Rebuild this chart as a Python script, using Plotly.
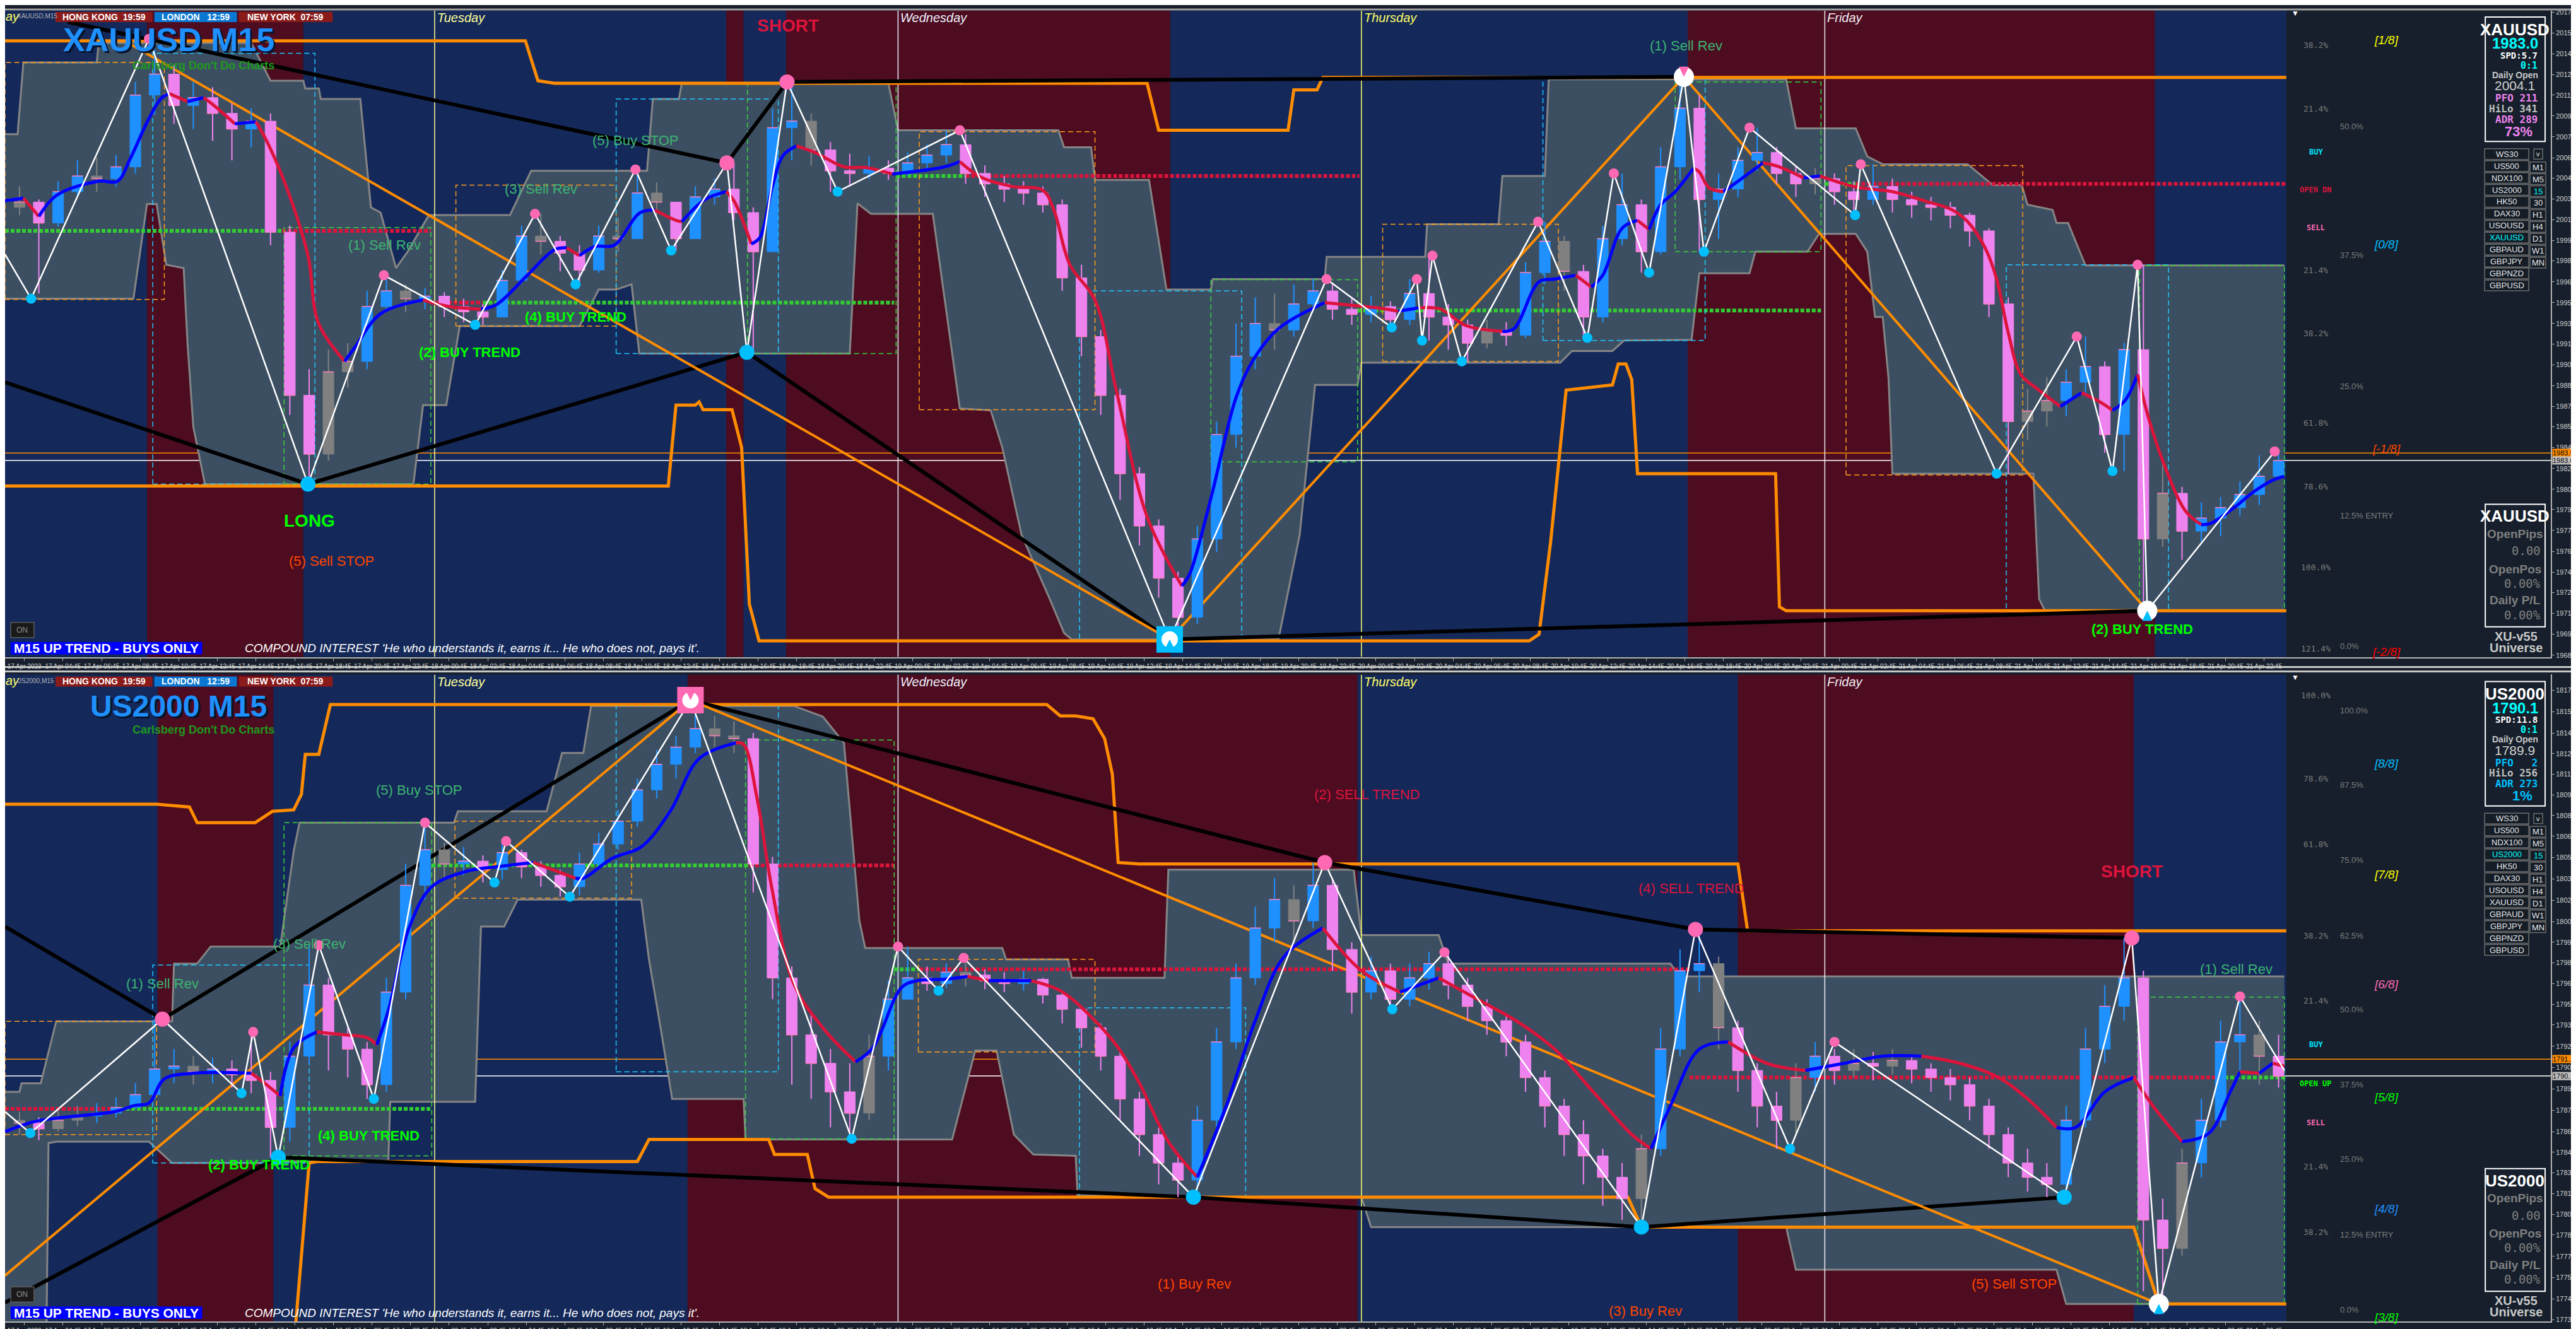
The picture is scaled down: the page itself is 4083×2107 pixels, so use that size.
import numpy as np
import plotly.graph_objects as go

# ---------------------------------------------------------------- time axis
# x = hours since Mon 17 Apr 2023 00:00 (broker time), one candle per hour
candle_hours = list(range(2, 120))
time_ticks = [2.75] + [4.75 + 2 * k for k in range(58)]
time_labels = ["17 Apr 2023"] + [f"{17 + int(t // 24)} Apr {int(t % 24):02d}:45" for t in time_ticks[1:]]
day_names = [(24, "Tuesday"), (48, "Wednesday"), (72, "Thursday"), (96, "Friday")]

# ---------------------------------------------------------------- XAUUSD M15 (top)
xau_first_open = 2002.4
xau_close = [2002.8, 2001.2, 2003.6, 2004.8, 2004.6, 2005.5, 2011.0, 2012.6, 2010.2, 2010.8,
             2009.6, 2008.4, 2009.0, 2000.5, 1988.0, 1983.5, 1989.8, 1990.6, 1994.8, 1996.0,
             1995.4, 1995.6, 1994.8, 1994.4, 1994.0, 1996.8, 2000.2, 1999.8, 1998.9, 1997.6,
             2000.2, 2000.0, 2003.5, 2002.8, 2000.0, 2003.2, 2003.8, 2002.0, 1999.0, 2008.5,
             2009.0, 2006.8, 2005.2, 2005.0, 2005.4, 2005.0, 2005.8, 2006.4, 2007.2, 2005.0,
             2004.2, 2003.8, 2003.5, 2002.6, 1997.0, 1992.5, 1988.0, 1982.0, 1978.0, 1974.0,
             1971.0, 1977.0, 1985.0, 1991.0, 1993.5, 1993.0, 1995.0, 1996.0, 1994.6, 1994.2,
             1994.8, 1993.8, 1995.8, 1994.0, 1993.4, 1992.0, 1993.0, 1992.6, 1997.4, 1999.8,
             1997.5, 1994.0, 2000.0, 2002.6, 1999.0, 2005.5, 2010.0, 2003.0, 2003.8, 2006.0,
             2006.6, 2005.0, 2004.2, 2004.6, 2003.6, 2003.0, 2004.0, 2003.0, 2002.6, 2002.4,
             2001.8, 2000.6, 1995.0, 1986.0, 1986.8, 1987.6, 1989.0, 1990.2, 1985.0, 1991.5,
             1977.0, 1980.5, 1977.6, 1978.6, 1979.4, 1980.4, 1981.8, 1983.0]
xau_high = [2004.0, 2003.0, 2004.4, 2006.0, 2006.2, 2006.4, 2012.0, 2015.3, 2013.3, 2012.0,
            2011.6, 2010.4, 2010.0, 2009.6, 2001.0, 1990.0, 1991.5, 1992.0, 1996.0, 1997.2,
            1996.5, 1996.2, 1995.9, 1995.4, 1995.0, 1997.6, 2001.0, 2001.9, 2000.2, 1999.5,
            2001.0, 2001.6, 2005.3, 2004.3, 2002.8, 2004.0, 2004.6, 2005.8, 2002.4, 2010.0,
            2012.0, 2009.6, 2007.4, 2006.5, 2006.3, 2006.0, 2006.6, 2007.2, 2008.3, 2008.0,
            2005.6, 2004.8, 2004.4, 2004.0, 2003.0, 1998.0, 1993.0, 1988.5, 1982.5, 1978.5,
            1974.5, 1978.0, 1986.0, 1993.5, 1995.5, 1995.8, 1996.5, 1996.9, 1996.5, 1995.4,
            1995.6, 1995.2, 1996.9, 1998.7, 1995.0, 1993.8, 1993.8, 1993.6, 1998.2, 2001.3,
            2000.2, 1998.0, 2001.0, 2005.0, 2003.0, 2007.0, 2012.4, 2011.0, 2005.0, 2007.0,
            2008.5, 2007.0, 2005.6, 2005.4, 2005.0, 2004.4, 2005.7, 2004.6, 2003.6, 2003.2,
            2002.8, 2002.0, 2000.8, 1995.5, 1988.5, 1989.4, 1990.0, 1992.5, 1990.6, 1992.0,
            1998.0, 1983.0, 1981.0, 1979.8, 1980.2, 1981.4, 1983.4, 1983.7]
xau_low = [2001.8, 1995.8, 2000.9, 2003.2, 2003.6, 2004.0, 2005.0, 2009.5, 2008.8, 2008.4,
           2007.5, 2006.0, 2007.0, 1999.5, 1986.5, 1981.2, 1983.0, 1988.6, 1990.0, 1994.5,
           1994.4, 1994.6, 1994.0, 1993.6, 1993.4, 1994.0, 1996.5, 1998.8, 1997.5, 1996.5,
           1997.4, 1999.0, 2000.0, 2001.8, 1999.1, 2000.0, 2002.6, 2001.4, 1991.3, 1999.0,
           2006.0, 2005.6, 2003.6, 2004.0, 2004.6, 2004.5, 2004.8, 2005.2, 2005.8, 2004.2,
           2003.2, 2002.8, 2002.6, 2002.0, 1996.0, 1991.0, 1986.5, 1980.0, 1976.5, 1972.5,
           1969.3, 1970.5, 1976.0, 1984.0, 1990.0, 1991.5, 1992.5, 1994.5, 1993.8, 1993.4,
           1993.6, 1993.2, 1993.4, 1992.2, 1991.5, 1990.6, 1991.6, 1991.8, 1992.4, 1996.5,
           1996.0, 1992.4, 1993.6, 1999.5, 1997.4, 1998.8, 2004.5, 1999.0, 2000.0, 2003.2,
           2005.2, 2004.2, 2003.2, 2003.4, 2002.6, 2001.8, 2002.6, 2002.0, 2001.6, 2001.4,
           2000.8, 1999.4, 1994.0, 1982.0, 1984.6, 1985.6, 1986.4, 1988.0, 1983.6, 1982.2,
           1971.5, 1976.4, 1975.4, 1976.8, 1977.2, 1978.8, 1979.6, 1981.6]
xau_ma = [(1.75, 2002.9), (2.7, 2003.1), (3.5, 2001.7), (4.45, 2003.35), (6.6, 2004.4), (7.57, 2004.4),
          (8.24, 2006.15), (9.2, 2009.2), (9.87, 2010.8), (10.27, 2011.1), (11.2, 2010.5), (12.03, 2010.8),
          (12.57, 2010.2), (13.65, 2008.8), (14.74, 2008.95), (15.28, 2007.55), (16.36, 2003.8),
          (17.44, 1998.7), (17.98, 1993.55), (19.34, 1990.6), (19.88, 1991.7), (21.2, 1994.25),
          (23.4, 1995.3), (24.75, 1994.8), (26.4, 1994.6), (27.2, 1994.95), (28.8, 1997.2), (30.2, 1999.15),
          (30.84, 1999.3), (31.5, 1998.7), (32.3, 1999.4), (33.3, 1999.5), (34.6, 2001.95), (35.4, 2002.2),
          (36.5, 2001.4), (36.8, 2001.3), (38.0, 2003.0), (39.1, 2003.6), (39.5, 2002.9), (40.4, 1999.6),
          (40.85, 2000.1), (41.5, 2004.05), (42.06, 2006.4), (42.74, 2007.1), (43.7, 2006.6),
          (45.2, 2005.5), (46.3, 2005.45), (47.7, 2004.95), (50.4, 2005.5), (51.2, 2005.9), (52.3, 2004.7),
          (53.9, 2004.0), (55.5, 2003.7), (56.07, 2002.2), (56.9, 1998.0), (58.2, 1995.3), (59.3, 1988.4),
          (60.9, 1978.7), (62.7, 1973.4), (63.1, 1974.3), (64.2, 1980.1), (65.5, 1987.8), (66.35, 1990.6),
          (67.7, 1993.1), (70.1, 1995.1), (71.5, 1994.9), (72.8, 1994.7), (73.9, 1994.45), (75.0, 1994.7),
          (76.1, 1994.6), (77.4, 1993.35), (79.3, 1992.9), (79.9, 1993.1), (81.2, 1996.7), (82.0, 1996.9),
          (83.1, 1997.2), (83.9, 1996.3), (84.5, 1997.2), (85.5, 2000.8), (86.3, 2001.4), (86.9, 2000.7),
          (87.5, 2002.6), (88.25, 2003.6), (89.2, 2005.4), (89.5, 2005.1), (90.0, 2003.9), (90.75, 2003.6),
          (91.6, 2004.5), (92.8, 2005.8), (93.65, 2005.5), (94.9, 2004.65), (95.75, 2004.8), (97.0, 2004.2),
          (97.8, 2003.9), (99.5, 2003.6), (101.15, 2002.9), (102.6, 2002.2), (103.4, 2001.3), (104.3, 1999.3),
          (104.9, 1996.9), (105.5, 1992.8), (106.15, 1989.6), (107.0, 1988.5), (108.2, 1987.15),
          (109.3, 1988.2), (110.3, 1987.45), (110.9, 1986.85), (111.55, 1987.6), (112.2, 1989.6),
          (112.8, 1986.1), (113.6, 1982.6), (114.7, 1979.1), (115.5, 1978.1), (116.0, 1978.2),
          (117.2, 1979.4), (118.2, 1980.6), (119.2, 1981.5), (119.8, 1981.8)]
xau_zigzag = [(1.75, 1998.8), (3.1, 1995.4), (9.2, 2015.3), (17.44, 1981.2), (21.37, 1997.2), (26.1, 1993.4),
              (29.2, 2001.9), (31.3, 1996.5), (34.4, 2005.3), (36.25, 1999.1), (39.14, 2005.8), (40.17, 1991.3),
              (42.25, 2012.0), (44.87, 2003.6), (51.2, 2008.3), (62.07, 1969.3), (70.19, 1996.9), (73.57, 1993.2),
              (74.87, 1996.9), (75.14, 1992.2), (75.68, 1998.7), (77.2, 1990.6), (81.15, 2001.3), (83.7, 1992.4),
              (85.07, 2005.0), (86.9, 1997.4), (88.7, 2012.4), (89.74, 1999.0), (92.1, 2008.5), (97.57, 2001.8),
              (97.86, 2005.7), (104.9, 1982.0), (109.05, 1992.5), (110.9, 1982.2), (112.2, 1998.0),
              (112.7, 1971.5), (119.3, 1983.7)]
xau_chan_hi = [(1.75, 2008.0), (2.4, 2008.0), (2.7, 2013.5), (6.5, 2013.5), (6.6, 2015.0), (14.5, 2015.0),
               (15.5, 2012.1), (17.2, 2012.1), (17.3, 2011.5), (18.0, 2011.5), (18.1, 2010.7), (20.15, 2010.7),
               (20.7, 2002.4), (21.2, 2002.0), (22.0, 1997.75), (22.6, 1999.0), (23.7, 2001.8), (27.9, 2001.8),
               (29.0, 2005.2), (35.0, 2005.2), (35.3, 2010.7), (36.65, 2010.7), (36.8, 2011.9), (47.5, 2011.9),
               (48.0, 2008.3), (56.3, 2008.3), (56.6, 2007.0), (58.0, 2007.0), (58.2, 2004.5), (61.0, 2004.5),
               (61.9, 1996.1), (64.2, 1996.1), (64.3, 1996.9), (70.1, 1996.9), (70.2, 1998.6), (75.3, 1998.6),
               (75.4, 2001.1), (79.1, 2001.1), (79.3, 2004.8), (81.5, 2004.8), (81.7, 2012.2), (94.0, 2012.2),
               (94.5, 2008.45), (97.6, 2008.45), (98.2, 2006.3), (99.0, 2005.7), (103.4, 2005.7), (104.7, 2004.1),
               (106.2, 2004.1), (106.5, 2002.6), (107.8, 2002.2), (108.0, 2001.2), (108.6, 2001.2),
               (109.5, 1997.95), (119.8, 1997.95)]
xau_chan_lo = [(1.75, 1995.4), (8.4, 1995.4), (9.1, 2002.65), (9.6, 2002.65), (10.1, 1998.0), (11.0, 1997.75),
               (11.2, 1992.0), (11.5, 1985.6), (12.1, 1981.2), (22.9, 1981.2), (23.4, 1987.25), (24.6, 1987.25),
               (25.3, 1993.3), (31.5, 1993.3), (32.5, 1996.1), (33.4, 1996.1), (34.2, 1996.5), (34.6, 1991.2),
               (45.5, 1991.2), (45.9, 2002.7), (46.6, 2001.9), (49.8, 2001.9), (51.2, 1987.0), (52.8, 1986.85),
               (53.4, 1984.0), (54.4, 1977.3), (55.8, 1972.6), (56.6, 1969.8), (57.0, 1969.3), (67.7, 1969.3),
               (68.8, 1977.3), (69.6, 1988.8), (71.8, 1988.8), (72.0, 1990.5), (82.3, 1990.5), (82.9, 1991.4),
               (85.0, 1991.4), (85.6, 1992.2), (89.1, 1992.25), (89.5, 1997.35), (92.1, 1997.35), (92.4, 1999.0),
               (95.1, 1999.0), (95.7, 2000.37), (97.6, 2000.37), (98.2, 1999.0), (98.6, 1994.0), (99.0, 1994.0),
               (99.3, 1989.3), (99.5, 1982.0), (106.8, 1982.0), (107.1, 1972.4), (107.4, 1971.5), (119.8, 1971.5)]
xau_outer_hi = [(1.75, 2015.15), (28.7, 2015.15), (29.35, 2012.1), (30.2, 2011.9), (60.9, 2011.9), (61.5, 2008.3),
                (68.2, 2008.3), (68.5, 2011.4), (69.7, 2011.4), (70.0, 2012.35), (119.9, 2012.35)]
xau_outer_lo = [(1.75, 1981.05), (36.1, 1981.05), (36.5, 1987.25), (37.5, 1987.25), (37.7, 1987.5), (37.9, 1986.9),
                (39.4, 1986.9), (39.9, 1984.0), (40.3, 1972.0), (40.8, 1969.2), (80.7, 1969.2), (81.2, 1969.7),
                (81.8, 1976.8), (82.6, 1988.4), (85.0, 1988.8), (85.3, 1990.4), (85.7, 1990.4), (86.0, 1989.2),
                (86.3, 1982.0), (93.45, 1982.0), (93.65, 1971.8), (94.0, 1971.5), (119.9, 1971.5)]
xau_black = [((1.75, 1989.0), (17.44, 1981.2)), ((17.44, 1981.2), (40.17, 1991.3)), ((40.17, 1991.3), (62.07, 1969.3)),
             ((5.0, 2016.6), (39.14, 2005.8)), ((39.14, 2005.8), (42.25, 2012.0)), ((42.25, 2012.0), (88.7, 2012.4)),
             ((62.07, 1969.3), (112.7, 1971.5))]
xau_trend = [((8.0, 2015.1), (62.07, 1969.3)), ((62.07, 1969.3), (88.7, 2012.4)), ((88.7, 2012.4), (112.7, 1971.5))]
xau_levels = [(1.75, 16.1, 2000.6, "up"), (16.1, 23.8, 2000.6, "dn"), (23.8, 26.5, 1995.1, "dn"),
              (26.5, 47.8, 1995.1, "up"), (47.9, 51.5, 2004.8, "up"), (51.5, 71.9, 2004.8, "dn"),
              (71.8, 95.8, 1994.5, "up"), (96.0, 97.6, 2004.2, "up"), (97.6, 119.9, 2004.2, "dn")]
xau_boxes = [(1.75, 10.0, 1995.35, 2013.5, "o"), (9.4, 17.8, 1981.2, 2014.2, "c"), (16.2, 23.8, 1981.2, 2000.85, "g"),
             (25.1, 33.4, 1993.3, 2004.1, "o"), (33.4, 41.8, 1991.2, 2010.7, "c"), (40.2, 47.9, 1991.2, 2011.9, "g"),
             (49.1, 58.2, 1986.9, 2008.2, "o"), (57.4, 65.8, 1969.2, 1996.0, "c"), (64.2, 71.8, 1982.9, 1996.85, "g"),
             (73.1, 82.2, 1990.6, 2001.1, "o"), (81.4, 89.8, 1992.2, 2012.3, "c"), (88.25, 95.8, 1999.0, 2012.0, "g"),
             (97.1, 106.25, 1981.9, 2005.6, "o"), (105.4, 113.8, 1971.5, 1998.0, "c"), (112.3, 119.8, 1971.5, 1997.95, "g")]
xau_sessions = [(1.75, 9.1, "n"), (9.1, 17.2, "m"), (17.2, 39.1, "n"), (39.1, 40.0, "m"), (40.0, 42.2, "n"),
                (42.2, 62.1, "m"), (62.1, 88.9, "n"), (88.9, 113.1, "m"), (113.1, 119.9, "n")]
xau_signals = [(21.4, 1999.5, "(1) Sell Rev", "rev"), (25.8, 1991.3, "(2) BUY TREND", "trend"),
               (29.5, 2003.8, "(3) Sell Rev", "rev"), (31.3, 1994.0, "(4) BUY TREND", "trend"),
               (34.4, 2007.55, "(5) Buy STOP", "rev"), (17.5, 1978.4, "LONG", "long"),
               (18.66, 1975.3, "(5) Sell STOP", "stop"), (42.3, 2016.3, "SHORT", "short"),
               (88.8, 2014.8, "(1) Sell Rev", "rev"), (112.45, 1970.1, "(2) BUY TREND", "trend")]
xau_ask, xau_bid = 1983.58, 1983.01
xau_yticks = [2017.35, 2015.75, 2014.15, 2012.55, 2011.00, 2009.40, 2007.80, 2006.20, 2004.65, 2003.05, 2001.45,
              1999.85, 1998.30, 1996.70, 1995.10, 1993.50, 1991.95, 1990.35, 1988.75, 1987.15, 1985.60, 1984.00,
              1982.40, 1980.80, 1979.25, 1977.65, 1976.05, 1974.45, 1972.90, 1971.30, 1969.70, 1968.10]
xau_fib_a = [(2014.81, "38.2%"), (2009.95, "21.4%"), (1997.58, "21.4%"), (1992.76, "38.2%"), (1985.88, "61.8%"),
             (1981.0, "78.6%"), (1974.8, "100.0%"), (1968.6, "121.4%")]
xau_fib_b = [(2008.6, "50.0%"), (1998.73, "37.5%"), (1988.7, "25.0%"), (1978.8, "12.5% ENTRY"), (1968.8, "0.0%")]
xau_octaves = [(2015.2, "[1/8]", "#ffff00"), (1999.55, "[0/8]", "#00bfff"), (1983.9, "[-1/8]", "#ff4500"),
               (1968.35, "[-2/8]", "#ff0000")]
xau_marks = [(2006.63, "BUY", "#00e5ff"), (2003.74, "OPEN DN", "#dc143c"), (2000.85, "SELL", "#ff69b4")]
xau_info = ["XAUUSD", "1983.0", "SPD:5.7", "0:1", "Daily Open", "2004.1", "PFO 211", "HiLo 341", "ADR 289", "73%"]

# ---------------------------------------------------------------- US2000 M15 (bottom)
us_first_open = 1787.0
us_close = [1786.8, 1786.4, 1787.0, 1787.3, 1787.5, 1787.9, 1788.8, 1790.6, 1790.8, 1790.4,
            1790.6, 1790.2, 1789.8, 1786.5, 1791.5, 1796.5, 1793.0, 1792.0, 1789.5, 1796.0,
            1803.5, 1806.0, 1805.0, 1805.2, 1804.6, 1805.8, 1804.8, 1804.2, 1803.4, 1805.0,
            1806.4, 1808.0, 1810.2, 1812.0, 1813.2, 1814.5, 1814.0, 1813.8, 1805.0, 1797.0,
            1793.0, 1791.0, 1789.0, 1787.5, 1791.5, 1795.5, 1797.0, 1796.6, 1797.4, 1797.2,
            1796.8, 1796.6, 1796.9, 1795.8, 1794.8, 1793.5, 1791.5, 1788.5, 1786.0, 1784.0,
            1782.8, 1787.0, 1792.5, 1797.0, 1800.5, 1802.5, 1801.0, 1803.5, 1799.0, 1796.0,
            1797.5, 1795.5, 1797.0, 1798.0, 1796.5, 1795.0, 1794.0, 1792.5, 1790.0, 1788.0,
            1786.0, 1784.5, 1783.0, 1781.5, 1785.0, 1792.0, 1797.5, 1798.0, 1793.5, 1790.5,
            1788.0, 1787.0, 1790.0, 1791.5, 1790.5, 1791.0, 1790.8, 1791.2, 1790.6, 1790.0,
            1789.5, 1788.0, 1786.0, 1784.0, 1783.0, 1782.5, 1787.0, 1792.0, 1795.0, 1797.0,
            1780.0, 1778.0, 1784.0, 1787.0, 1792.5, 1793.0, 1791.5, 1790.1]
us_high = [1787.6, 1787.2, 1787.8, 1788.0, 1788.2, 1788.6, 1789.6, 1794.1, 1792.0, 1791.5,
           1791.4, 1791.2, 1793.2, 1790.4, 1792.5, 1799.3, 1797.0, 1793.5, 1792.5, 1797.0,
           1805.0, 1807.9, 1806.5, 1806.2, 1805.6, 1806.6, 1806.0, 1805.2, 1804.6, 1805.8,
           1807.2, 1808.8, 1811.0, 1813.0, 1814.0, 1816.5, 1815.4, 1815.0, 1814.2, 1805.5,
           1797.8, 1794.5, 1792.0, 1791.0, 1793.0, 1796.8, 1799.2, 1797.8, 1798.0, 1798.4,
           1797.6, 1797.4, 1797.5, 1797.0, 1796.0, 1795.0, 1793.8, 1792.0, 1789.0, 1786.5,
           1784.5, 1788.0, 1793.5, 1798.0, 1802.0, 1804.0, 1803.5, 1805.1, 1804.0, 1799.5,
           1798.5, 1798.0, 1798.0, 1798.8, 1798.8, 1797.0, 1795.5, 1794.5, 1793.0, 1790.5,
           1788.5, 1787.0, 1785.0, 1784.0, 1786.0, 1793.5, 1799.0, 1800.4, 1798.5, 1794.0,
           1791.0, 1789.0, 1791.0, 1792.5, 1792.0, 1792.0, 1791.8, 1792.0, 1791.6, 1791.0,
           1790.6, 1790.0, 1788.5, 1786.5, 1785.0, 1784.0, 1788.0, 1793.5, 1796.5, 1799.8,
           1797.5, 1781.5, 1785.0, 1788.5, 1794.0, 1795.7, 1794.0, 1793.0]
us_low = [1786.0, 1785.6, 1786.2, 1786.6, 1786.8, 1787.2, 1787.8, 1788.5, 1789.6, 1789.5,
          1789.6, 1789.3, 1788.9, 1784.4, 1785.5, 1791.0, 1790.5, 1790.0, 1788.5, 1789.0,
          1795.5, 1802.5, 1804.0, 1804.2, 1803.7, 1803.9, 1804.0, 1803.4, 1802.7, 1802.8,
          1804.6, 1806.0, 1807.6, 1809.6, 1811.0, 1812.8, 1813.2, 1812.8, 1803.0, 1795.5,
          1789.5, 1788.5, 1786.5, 1785.7, 1787.0, 1790.5, 1795.8, 1796.1, 1796.3, 1796.4,
          1796.2, 1796.0, 1796.1, 1795.2, 1793.8, 1792.1, 1790.5, 1787.0, 1784.5, 1782.5,
          1781.6, 1781.8, 1786.5, 1792.0, 1796.5, 1799.5, 1799.5, 1800.5, 1797.5, 1794.5,
          1795.5, 1794.8, 1795.0, 1796.2, 1795.5, 1794.0, 1793.0, 1791.5, 1789.0, 1786.5,
          1784.5, 1782.5, 1781.0, 1780.0, 1779.5, 1784.5, 1791.5, 1796.0, 1792.0, 1789.0,
          1786.5, 1785.0, 1786.0, 1789.0, 1789.5, 1790.0, 1789.8, 1790.2, 1789.6, 1789.0,
          1788.4, 1787.0, 1785.0, 1783.0, 1782.0, 1781.6, 1782.0, 1786.5, 1791.0, 1794.0,
          1775.0, 1774.1, 1777.5, 1783.0, 1786.5, 1790.5, 1789.5, 1789.3]
us_ma = [(1.75, 1786.2), (3.25, 1786.9), (4.75, 1787.2), (7.4, 1787.6), (8.5, 1788.05), (9.2, 1788.2),
         (10.0, 1789.9), (11.5, 1790.3), (14.5, 1790.3), (15.2, 1789.6), (16.0, 1788.7), (16.7, 1792.1),
         (17.9, 1793.2), (19.35, 1793.0), (20.5, 1792.8), (21.0, 1792.3), (21.6, 1794.7), (22.7, 1800.6),
         (23.85, 1803.4), (25.7, 1804.5), (27.2, 1804.8), (29.1, 1805.1), (31.3, 1804.0), (31.7, 1804.0),
         (33.2, 1805.4), (34.7, 1806.2), (36.2, 1808.7), (37.7, 1812.4), (39.6, 1813.5), (40.0, 1813.4),
         (40.7, 1809.6), (41.45, 1803.4), (42.6, 1796.6), (44.1, 1793.5), (45.8, 1791.1), (46.7, 1792.1),
         (48.2, 1796.35), (49.0, 1796.8), (50.4, 1796.9), (51.6, 1797.1), (52.7, 1796.8), (54.9, 1796.8),
         (56.4, 1796.1), (57.9, 1794.4), (59.4, 1792.1), (60.5, 1789.6), (62.0, 1785.5), (63.5, 1783.0),
         (65.0, 1788.0), (66.5, 1794.0), (68.0, 1798.5), (70.0, 1800.5), (72.0, 1797.5), (74.0, 1796.0),
         (76.0, 1797.0), (78.0, 1795.5), (80.0, 1794.0), (82.0, 1792.0), (84.0, 1789.0), (86.0, 1786.0),
         (87.0, 1785.0), (88.0, 1788.0), (89.5, 1792.0), (91.0, 1792.5), (93.0, 1791.0), (95.0, 1790.5),
         (97.0, 1791.0), (99.0, 1791.5), (101.0, 1791.5), (103.0, 1791.0), (105.0, 1790.0), (106.5, 1788.5),
         (108.0, 1786.5), (109.0, 1786.5), (110.5, 1789.0), (112.0, 1790.0), (113.0, 1788.0), (114.5, 1785.5),
         (115.9, 1786.1), (117.0, 1789.0), (117.5, 1790.4), (118.5, 1790.3), (119.2, 1791.0), (119.8, 1790.8)]
us_zigzag = [(1.75, 1787.6), (3.06, 1786.1), (9.9, 1794.1), (14.0, 1788.9), (14.6, 1793.2), (15.9, 1784.4),
             (18.0, 1799.3), (20.85, 1788.5), (23.5, 1807.9), (27.1, 1803.7), (27.7, 1806.6), (31.0, 1802.7),
             (37.25, 1816.5), (45.6, 1785.7), (48.0, 1799.2), (50.1, 1796.1), (51.4, 1798.4), (63.3, 1781.6),
             (70.1, 1805.1), (73.6, 1794.8), (76.3, 1798.8), (86.5, 1779.5), (89.3, 1800.4), (94.2, 1785.0),
             (96.5, 1792.5), (108.4, 1781.6), (111.9, 1799.8), (113.3, 1774.1), (117.5, 1795.7), (119.8, 1790.5)]
us_chan_hi = [(1.75, 1789.0), (2.5, 1789.0), (2.6, 1789.6), (3.6, 1789.6), (4.4, 1793.95), (10.4, 1793.95),
              (10.5, 1798.0), (11.7, 1798.0), (12.4, 1799.2), (16.0, 1799.2), (16.7, 1805.9), (17.0, 1807.9),
              (25.0, 1807.9), (25.2, 1808.7), (29.8, 1808.7), (30.6, 1812.8), (31.7, 1812.8), (32.1, 1816.1),
              (42.6, 1816.1), (44.1, 1815.35), (45.2, 1813.5), (46.0, 1801.0), (46.3, 1799.1), (53.4, 1799.1),
              (53.6, 1798.3), (56.8, 1798.3), (57.0, 1797.0), (61.8, 1797.0), (62.0, 1804.6), (71.6, 1804.6),
              (72.0, 1800.0), (76.0, 1800.0), (76.5, 1798.0), (88.0, 1798.0), (88.5, 1797.1), (119.8, 1797.1)]
us_chan_lo = [(1.75, 1772.5), (3.9, 1772.5), (4.0, 1785.4), (4.4, 1785.5), (9.2, 1785.5), (10.4, 1784.0),
              (16.0, 1784.0), (16.2, 1784.1), (21.6, 1784.1), (21.7, 1788.3), (26.1, 1788.3), (26.4, 1800.6),
              (27.6, 1800.6), (28.3, 1802.5), (34.7, 1802.5), (35.1, 1798.3), (35.8, 1792.7), (36.3, 1788.5),
              (40.0, 1788.5), (40.1, 1785.65), (50.8, 1785.65), (52.0, 1791.9), (53.1, 1791.9), (54.0, 1786.0),
              (55.0, 1784.6), (57.2, 1784.5), (57.3, 1781.7), (62.0, 1781.7), (63.0, 1781.6), (72.0, 1781.6),
              (72.5, 1779.5), (94.0, 1779.5), (94.5, 1776.5), (108.0, 1776.5), (108.5, 1774.1), (119.8, 1774.1)]
us_outer_hi = [(1.75, 1809.2), (9.6, 1809.2), (11.3, 1809.0), (11.7, 1807.9), (14.7, 1807.9), (15.6, 1808.7),
               (16.7, 1808.8), (17.1, 1809.9), (17.3, 1812.7), (18.0, 1812.7), (18.6, 1816.2), (55.7, 1816.2),
               (56.4, 1815.4), (57.2, 1815.4), (58.1, 1815.2), (58.7, 1813.8), (59.1, 1811.3), (59.4, 1805.1),
               (60.5, 1805.0), (91.5, 1805.0), (92.0, 1800.3), (119.9, 1800.3)]
us_outer_lo = [(1.75, 1771.0), (16.7, 1771.0), (17.5, 1784.0), (17.9, 1784.1), (34.5, 1784.1), (35.1, 1785.65),
               (41.3, 1785.65), (41.6, 1784.6), (43.3, 1784.6), (43.7, 1782.2), (44.4, 1781.6), (85.8, 1781.6),
               (86.5, 1779.5), (112.0, 1779.5), (113.3, 1774.1), (119.9, 1774.1)]
us_black = [((1.75, 1800.6), (9.9, 1794.1)), ((9.9, 1794.1), (37.25, 1816.5)), ((37.25, 1816.5), (70.1, 1805.1)),
            ((70.1, 1805.1), (89.3, 1800.4)), ((89.3, 1800.4), (111.9, 1799.8)), ((1.75, 1774.2), (15.9, 1784.4)),
            ((15.9, 1784.4), (63.3, 1781.6)), ((63.3, 1781.6), (86.5, 1779.5)), ((86.5, 1779.5), (108.4, 1781.6))]
us_trend = [((1.75, 1776.1), (37.25, 1816.5)), ((37.25, 1816.5), (113.3, 1774.1))]
us_levels = [(1.75, 7.7, 1787.8, "dn"), (7.7, 23.85, 1787.8, "up"), (23.85, 40.3, 1804.9, "up"),
             (40.3, 47.8, 1804.9, "dn"), (47.8, 49.1, 1797.6, "up"), (49.1, 89.0, 1797.6, "dn"),
             (89.0, 116.7, 1790.0, "dn"), (116.7, 119.9, 1790.0, "up")]
us_boxes = [(1.75, 9.6, 1786.0, 1793.95, "o"), (9.4, 17.5, 1784.0, 1797.9, "c"), (16.2, 23.85, 1784.5, 1807.9, "g"),
            (25.05, 34.2, 1802.6, 1808.0, "o"), (33.4, 41.8, 1790.4, 1816.1, "c"), (40.1, 47.8, 1785.7, 1813.7, "g"),
            (49.05, 58.2, 1791.8, 1798.3, "o"), (57.4, 66.0, 1781.6, 1794.9, "c"), (112.2, 119.8, 1774.1, 1795.65, "g")]
us_sessions = [(1.75, 9.65, "n"), (9.65, 15.65, "m"), (15.65, 37.1, "n"), (37.1, 71.8, "m"), (71.8, 91.5, "n"),
               (91.5, 112.0, "m"), (112.0, 119.9, "n")]
us_signals = [(23.2, 1810.2, "(5) Buy STOP", "rev"), (17.5, 1799.4, "(3) Sell Rev", "rev"),
              (9.9, 1796.6, "(1) Sell Rev", "rev"), (20.6, 1785.9, "(4) BUY TREND", "trend"),
              (14.9, 1783.9, "(2) BUY TREND", "trend"), (72.3, 1809.9, "(2) SELL TREND", "sell"),
              (89.1, 1803.3, "(4) SELL TREND", "sell"), (111.9, 1804.5, "SHORT", "short"),
              (117.3, 1797.6, "(1) Sell Rev", "rev"), (63.35, 1775.5, "(1) Buy Rev", "stop"),
              (86.7, 1773.6, "(3) Buy Rev", "stop"), (105.8, 1775.5, "(5) Sell STOP", "stop")]
us_ask, us_bid = 1791.29, 1790.11
us_yticks = [1817.20, 1815.70, 1814.20, 1812.75, 1811.30, 1809.85, 1808.40, 1806.95, 1805.45, 1803.95, 1802.45,
             1800.95, 1799.50, 1798.05, 1796.60, 1795.15, 1793.70, 1792.20, 1790.70, 1789.20, 1787.70, 1786.20,
             1784.75, 1783.30, 1781.85, 1780.40, 1778.95, 1777.45, 1775.95, 1774.45, 1773.00]
us_fib_a = [(1816.84, "100.0%"), (1810.97, "78.6%"), (1806.38, "61.8%"), (1799.98, "38.2%"), (1795.39, "21.4%"),
            (1783.73, "21.4%"), (1779.14, "38.2%")]
us_fib_b = [(1815.78, "100.0%"), (1810.53, "87.5%"), (1805.28, "75.0%"), (1799.98, "62.5%"), (1794.77, "50.0%"),
            (1789.51, "37.5%"), (1784.26, "25.0%"), (1778.96, "12.5% ENTRY"), (1773.71, "0.0%")]
us_octaves = [(1812.07, "[8/8]", "#00bfff"), (1804.26, "[7/8]", "#ffff00"), (1796.53, "[6/8]", "#ff69b4"),
              (1788.63, "[5/8]", "#00ff00"), (1780.77, "[4/8]", "#1e90ff"), (1773.18, "[3/8]", "#00ff00")]
us_marks = [(1792.3, "BUY", "#00e5ff"), (1789.56, "OPEN UP", "#00ff00"), (1786.82, "SELL", "#ff69b4")]
us_info = ["US2000", "1790.1", "SPD:11.8", "0:1", "Daily Open", "1789.9", "PFO   2", "HiLo 256", "ADR 273", "1%"]

symbols = ["WS30", "US500", "NDX100", "US2000", "HK50", "DAX30", "USOUSD", "XAUUSD", "GBPAUD", "GBPJPY",
           "GBPNZD", "GBPUSD"]
timeframes = ["M1", "M5", "15", "30", "H1", "H4", "D1", "W1", "MN"]
clocks = [("HONG KONG  19:59", "#8b1a1a"), ("LONDON   12:59", "#0a78d2"), ("NEW YORK  07:59", "#8b1a1a")]
quote = "COMPOUND INTEREST 'He who understands it, earns it... He who does not, pays it'."

# ---------------------------------------------------------------- styling
W, H = 4083, 2107
X0, X1 = 1.75, 133.6
PLOT_R = 4041 / W
DARK = "#161f2b"
NAVY, MAROON = "#14295a", "#4d0c20"
CHAN_FILL, CHAN_LINE = "#3c4f62", "#858585"
ORANGE = "#ff8c00"
FONT = "Liberation Sans, Arial, sans-serif"
NARROW = "Liberation Sans Narrow, Arial Narrow, Liberation Sans, sans-serif"
MONO = "DejaVu Sans Mono, monospace"
BOX_COL = {"o": "#ff9a1a", "c": "#1ec8ff", "g": "#3ad23a"}
LEVEL_COL = {"up": "#32cd32", "dn": "#dc143c"}
SIGNAL_STYLE = {"rev": ("#3cb371", 22, False), "trend": ("#00ff00", 22, True), "stop": ("#ff4500", 22, False),
                "sell": ("#dc143c", 22, False), "long": ("#00ff00", 28, True), "short": ("#dc143c", 28, True)}
DAY_COL = {"Tuesday": "#ffff99", "Wednesday": "#eef2ff", "Thursday": "#ffff66", "Friday": "#f4ecf4"}

panels = [
    dict(xa="x", ya="y", dom=[1 - 1033 / H, 1 - 5 / H], rng=[1967.96, 2017.46], top=0,
         first_open=xau_first_open, close=xau_close, high=xau_high, low=xau_low, ma=xau_ma, zz=xau_zigzag,
         chan_hi=xau_chan_hi, chan_lo=xau_chan_lo, outer_hi=xau_outer_hi, outer_lo=xau_outer_lo,
         black=xau_black, trend=xau_trend, levels=xau_levels, boxes=xau_boxes, sessions=xau_sessions,
         signals=xau_signals, ask=xau_ask, bid=xau_bid, yticks=xau_yticks, fib_a=xau_fib_a, fib_b=xau_fib_b,
         octaves=xau_octaves, marks=xau_marks, info=xau_info, name="XAUUSD", sel="XAUUSD",
         big={3, 10, 11, 12}, special={15: "box_up", 26: "ring_down", 35: "ring_up"}, nomark={0},
         info_col=("#ee82ee", "#ee82ee", "#ee82ee")),
    dict(xa="x2", ya="y2", dom=[1 - 2090 / H, 1 - 1061 / H], rng=[1772.87, 1818.30], top=1057,
         first_open=us_first_open, close=us_close, high=us_high, low=us_low, ma=us_ma, zz=us_zigzag,
         chan_hi=us_chan_hi, chan_lo=us_chan_lo, outer_hi=us_outer_hi, outer_lo=us_outer_lo,
         black=us_black, trend=us_trend, levels=us_levels, boxes=us_boxes, sessions=us_sessions,
         signals=us_signals, ask=us_ask, bid=us_bid, yticks=us_yticks, fib_a=us_fib_a, fib_b=us_fib_b,
         octaves=us_octaves, marks=us_marks, info=us_info, name="US2000", sel="US2000",
         big={2, 5, 17, 18, 21, 22, 25, 26}, special={12: "box_down", 27: "ring_up"}, nomark={0, 29},
         info_col=("#00bfff", "#00bfff", "#00bfff")),
]

fig = go.Figure()


def line(xs, ys, color, width, xa, ya, dash=None, shape="linear", fill=None, fillcolor=None):
    fig.add_trace(go.Scatter(x=xs, y=ys, mode="lines", xaxis=xa, yaxis=ya, hoverinfo="skip",
                             line=dict(color=color, width=width, dash=dash, shape=shape),
                             fill=fill, fillcolor=fillcolor))


def note(x, y, text, color, size, family=FONT, xref="paper", yref="paper", xanchor="center", bg=None):
    fig.add_annotation(x=x, y=y, xref=xref, yref=yref, text=text, showarrow=False, bgcolor=bg, borderpad=0,
                       font=dict(color=color, size=size, family=family), xanchor=xanchor, yanchor="middle")


def px(x):
    return x / W


def py(y):
    return 1 - y / H


def rect(x0, y0, x1, y1, fill, border=None, width=0):
    fig.add_shape(type="rect", xref="paper", yref="paper", x0=px(x0), x1=px(x1), y0=py(y1), y1=py(y0),
                  fillcolor=fill, line=dict(color=border, width=width) if border else dict(width=0))


def draw_candles(p, xa, ya):
    # scatter polygons so the candles sit above the channel fill
    ma_t, ma_p = zip(*p["ma"])
    close = np.array(p["close"])
    opn = np.concatenate([[p["first_open"]], close[:-1]])
    high = np.maximum(np.array(p["high"]), np.maximum(opn, close))
    low = np.minimum(np.array(p["low"]), np.minimum(opn, close))
    mid = np.array(candle_hours) + 0.5
    ma_at = np.interp(mid, ma_t, ma_p)
    groups = {}
    for i, (o, c, m) in enumerate(zip(opn, close, ma_at)):
        if c >= o and c >= m:
            col = "#1e90ff"
        elif c < o and c < m:
            col = "#ee82ee"
        else:
            col = "#808080"
        groups.setdefault(col, []).append(i)
    half = 0.28
    for col, idx in groups.items():
        wx, wy, bx, by = [], [], [], []
        for i in idx:
            wx += [mid[i], mid[i], None]
            wy += [low[i], high[i], None]
            b0 = min(opn[i], close[i])
            b1 = max(max(opn[i], close[i]), b0 + 0.2)
            bx += [mid[i] - half, mid[i] + half, mid[i] + half, mid[i] - half, mid[i] - half, None]
            by += [b0, b0, b1, b1, b0, None]
        line(wx, wy, col, 2, xa, ya)
        fig.add_trace(go.Scatter(x=bx, y=by, mode="lines", fill="toself", fillcolor=col, xaxis=xa, yaxis=ya,
                                 hoverinfo="skip", line=dict(color=col, width=1)))
        # small close tick, as drawn by the terminal
        tx, ty = [], []
        for i in idx:
            tx += [mid[i] - half, mid[i] + half, None]
            ty += [close[i], close[i], None]
        line(tx, ty, "#ff80c0", 1.5, xa, ya)


def draw_panel(p):
    xa, ya = p["xa"], p["ya"]
    lo, hi = p["rng"]

    # session background
    for t0, t1, k in p["sessions"]:
        fig.add_shape(type="rect", xref=xa, yref=ya + " domain", x0=t0, x1=t1, y0=0, y1=1, layer="below",
                      fillcolor=NAVY if k == "n" else MAROON, line_width=0)

    # bid / ask lines
    line([X0, X1], [p["ask"]] * 2, ORANGE, 1.5, xa, ya)
    line([X0, X1], [p["bid"]] * 2, "#ffffff", 1.5, xa, ya)

    # price channel
    t, v = zip(*p["chan_lo"])
    line(t, v, CHAN_LINE, 3, xa, ya)
    t, v = zip(*p["chan_hi"])
    line(t, v, CHAN_LINE, 3, xa, ya, fill="tonexty", fillcolor=CHAN_FILL)

    # day separators
    for h, name in day_names:
        line([h, h], [lo, hi], DAY_COL[name], 1.5, xa, ya)
        note(h + 0.1, py(p["top"] + 16), "<i>" + name + "</i>", DAY_COL[name], 20, NARROW, xref=xa, xanchor="left")

    # open levels (dotted) and zone boxes (dashed)
    for t0, t1, lvl, k in p["levels"]:
        line([t0, t1], [lvl, lvl], LEVEL_COL[k], 6, xa, ya, dash="6px,3px")
    for t0, t1, b0, b1, k in p["boxes"]:
        line([t0, t1, t1, t0, t0], [b0, b0, b1, b1, b0], BOX_COL[k], 1.5, xa, ya, dash="8px,5px")

    # outer channel and trend lines
    for pts in (p["outer_hi"], p["outer_lo"]):
        t, v = zip(*pts)
        line(t, v, ORANGE, 5, xa, ya)
    for a, b in p["black"]:
        line([a[0], b[0]], [a[1], b[1]], "#000000", 6, xa, ya)
    for a, b in p["trend"]:
        line([a[0], b[0]], [a[1], b[1]], ORANGE, 4, xa, ya)

    draw_candles(p, xa, ya)

    # moving average, blue while rising, red while falling
    segs = []
    for a, b in zip(p["ma"][:-1], p["ma"][1:]):
        col = "#0000ff" if b[1] >= a[1] else "#dc143c"
        if segs and segs[-1][0] == col:
            segs[-1][1].append(b)
        else:
            segs.append((col, [a, b]))
    for col, pts in segs:
        t, v = zip(*pts)
        line(t, v, col, 5, xa, ya, shape="spline")

    # zigzag and pivots
    t, v = zip(*p["zz"])
    line(t, v, "#ffffff", 2.5, xa, ya)
    for i, (h, val) in enumerate(p["zz"]):
        if i in p["nomark"]:
            continue
        is_high = val > p["zz"][i - 1][1]
        kind = p["special"].get(i)
        if kind is None:
            size = 24 if i in p["big"] else 16
            fig.add_trace(go.Scatter(x=[h], y=[val], mode="markers", xaxis=xa, yaxis=ya, hoverinfo="skip",
                                     marker=dict(color="#ff69b4" if is_high else "#00bfff", size=size,
                                                 line_width=0)))
            continue
        if kind.startswith("box"):
            base = [("square", "#00bfff" if kind == "box_up" else "#ff69b4", 42), ("circle", "#ffffff", 26)]
        else:
            base = [("circle", "#ffffff", 32)]
        arrow = ("arrow-up", "#00bfff") if kind.endswith("up") else ("arrow-down", "#ff69b4")
        for sym, col, sz in base + [(arrow[0], arrow[1], 16)]:
            fig.add_trace(go.Scatter(x=[h], y=[val], mode="markers", xaxis=xa, yaxis=ya, hoverinfo="skip",
                                     marker=dict(symbol=sym, color=col, size=sz, line_width=0)))

    # signal texts
    for h, val, text, k in p["signals"]:
        col, size, bold = SIGNAL_STYLE[k]
        note(h, val, "<b>" + text + "</b>" if bold else text, col, size, NARROW, xref=xa, yref=ya)

    # right-hand price tags
    note(px(4043), p["ask"], f"{p['ask']:.2f}", "#000000", 11, FONT, yref=ya, xanchor="left", bg=ORANGE)
    note(px(4043), p["bid"], f"{p['bid']:.2f}", "#000000", 11, FONT, yref=ya, xanchor="left", bg="#c0c0c0")

    # fibonacci / octave columns
    for val, text in p["fib_a"]:
        note(px(3668), val, text, "#7d7d7d", 13, MONO, yref=ya)
    for val, text in p["fib_b"]:
        note(px(3705), val, text, "#7d7d7d", 13, FONT, yref=ya, xanchor="left")
    for val, text, col in p["octaves"]:
        note(px(3780), val, "<i>" + text + "</i>", col, 19, FONT, yref=ya)
    for val, text, col in p["marks"]:
        note(px(3668), val, "<b>" + text + "</b>", col, 12, MONO, yref=ya)

    # info panel
    top = p["top"]
    rect(3937, top + 15, 4032, top + 213, DARK, "#ffffff", 2)
    info = p["info"]
    c1, c2, c3 = p["info_col"]
    note(px(3984), py(top + 35), "<b>" + info[0] + "</b>", "#ffffff", 26, NARROW)
    note(px(3984), py(top + 57), "<b>" + info[1] + "</b>", "#00ffff", 24, FONT)
    note(px(4021), py(top + 76), "<b>" + info[2] + "</b>", "#ffffff", 14, MONO, xanchor="right")
    note(px(4021), py(top + 92), "<b>" + info[3] + "</b>", "#00ffff", 15, MONO, xanchor="right")
    note(px(3984), py(top + 107), "<b>" + info[4] + "</b>", "#c8c8c8", 14, FONT)
    note(px(3984), py(top + 124), info[5], "#d2d2d2", 21, FONT)
    note(px(4021), py(top + 144), "<b>" + info[6] + "</b>", c1, 16, MONO, xanchor="right")
    note(px(4021), py(top + 161), "<b>" + info[7] + "</b>", "#c0c0c0", 16, MONO, xanchor="right")
    note(px(4021), py(top + 178), "<b>" + info[8] + "</b>", c2, 16, MONO, xanchor="right")
    note(px(4013), py(top + 197), "<b>" + info[9] + "</b>", c3, 22, FONT, xanchor="right")

    # symbol / timeframe buttons
    for i, s in enumerate(symbols):
        yc = top + 233 + 19 * i
        rect(3936, yc - 8.5, 4006, yc + 8.5, "#141c26", "#6e6e6e", 1.5)
        note(px(3971), py(yc), s, "#00ffff" if s == p["sel"] else "#e6e6e6", 13, FONT)
    rect(4014, top + 225, 4028, top + 241, "#141c26", "#6e6e6e", 1.5)
    note(px(4021), py(top + 233), "v", "#e6e6e6", 11, FONT)
    for i, tf in enumerate(timeframes):
        yc = top + 254 + 19 * i
        rect(4008, yc - 8.5, 4033, yc + 8.5, "#141c26", "#6e6e6e", 1.5)
        note(px(4020.5), py(yc), tf, "#00ffff" if tf == "15" else "#e6e6e6", 13, FONT)

    # account box
    rect(3937, top + 790, 4032, top + 985, DARK, "#ffffff", 2)
    note(px(3984), py(top + 809), "<b>" + p["name"] + "</b>", "#ffffff", 26, NARROW)
    for dy, text, anchor in [(837, "<b>OpenPips</b>", "center"), (864, "0.00", "right"),
                             (893, "<b>OpenPos</b>", "center"), (916, "0.00%", "right"),
                             (943, "<b>Daily P/L</b>", "center"), (966, "0.00%", "right")]:
        note(px(4026) if anchor == "right" else px(3984), py(top + dy), text, "#808080", 19,
             MONO if anchor == "right" else FONT, xanchor=anchor)
    note(px(3986), py(top + 1000), "<b>XU-v55</b>", "#c8c8c8", 20, FONT)
    note(px(3986), py(top + 1018), "<b>Universe</b>", "#c8c8c8", 20, FONT)

    # top-left header
    note(px(0), py(top + 14), "<i>ay</i>", "#ffff66", 20, FONT, xanchor="left")
    note(px(18), py(top + 14), p["name"] + ",M15", "#b4b4b4", 10, FONT, xanchor="left")
    xs = [(80, 234), (237, 368), (371, 520)]
    for (x0, x1), (text, col) in zip(xs, clocks):
        rect(x0, top + 7, x1, top + 23, col)
        note(px((x0 + x1) / 2), py(top + 15), "<b>" + text + "</b>", "#ffffff", 14, FONT)
    title_size = 52 if top == 0 else 48
    tx, ty = (260, 51) if top == 0 else (275, 54)
    note(px(tx + 3), py(top + ty + 3), "<b>" + p["name"] + " M15</b>", "#08142c", title_size, FONT)
    note(px(tx), py(top + ty), "<b>" + p["name"] + " M15</b>", "#1e90ff", title_size, FONT)
    note(px(315), py(top + 92), "<b>Carlsberg Don't Do Charts</b>", "#1e9a1e", 18, FONT)

    # bottom-left footer
    rect(9, top + 978, 46, top + 1002, "#1a1a1a", "#5a5a5a", 1.5)
    note(px(27.5), py(top + 990), "ON", "#8c8c8c", 12, FONT)
    rect(9, top + 1009, 313, top + 1029, "#0000ff")
    note(px(161), py(top + 1019), "<b>M15 UP TREND - BUYS ONLY</b>", "#ffffff", 21, NARROW)
    note(px(380), py(top + 1019), "<i>" + quote + "</i>", "#ffffff", 19, NARROW, xanchor="left")
    note(px(3635), py(top + 9), "▼", "#ffffff", 12, FONT)


for p in panels:
    draw_panel(p)

# separator between the two charts
for y in (1049, 1056):
    fig.add_shape(type="line", xref="paper", yref="paper", x0=0, x1=1, y0=py(y), y1=py(y),
                  line=dict(color="#c8c8c8", width=3))
fig.add_shape(type="line", xref="paper", yref="paper", x0=0, x1=1, y0=py(3), y1=py(3),
              line=dict(color="#a0a0a0", width=3))

axis_x = dict(range=[X0, X1], domain=[0, PLOT_R], showgrid=False, zeroline=False, tickmode="array",
              tickvals=time_ticks, ticktext=time_labels, ticks="outside", ticklen=4, tickcolor="#b4b4b4",
              showline=True, linecolor="#b4b4b4", linewidth=2, fixedrange=True,
              tickfont=dict(size=10, color="#d2d2d2", family=NARROW))
fig.update_layout(
    width=W, height=H, margin=dict(l=0, r=0, t=0, b=0), paper_bgcolor=DARK, plot_bgcolor=DARK,
    showlegend=False, hovermode=False,
    xaxis=dict(axis_x, anchor="y"),
    xaxis2=dict(axis_x, anchor="y2"),
)
for p, key in zip(panels, ("yaxis", "yaxis2")):
    fig.update_layout({key: dict(domain=p["dom"], range=p["rng"], side="right", anchor=p["xa"], showgrid=False,
                                 zeroline=False, tickmode="array", tickvals=p["yticks"],
                                 ticktext=[f"{v:.2f}" for v in p["yticks"]], ticks="outside", ticklen=4,
                                 tickcolor="#b4b4b4", showline=True, linecolor="#b4b4b4", linewidth=2,
                                 fixedrange=True, tickfont=dict(size=11, color="#d2d2d2", family=FONT))})

fig.write_html("out.html")
